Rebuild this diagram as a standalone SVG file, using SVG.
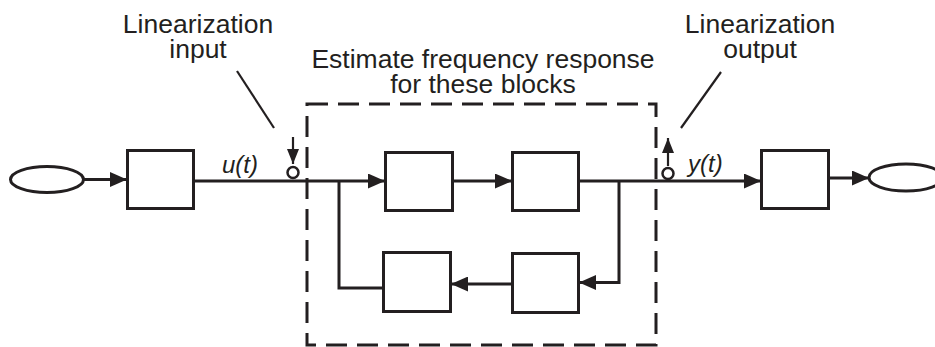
<svg xmlns="http://www.w3.org/2000/svg" width="935" height="347" viewBox="0 0 935 347">
<style>
.blk{fill:#fff;stroke:#231f20;stroke-width:3}
.ln{fill:none;stroke:#231f20;stroke-width:3}
.thin{fill:none;stroke:#231f20;stroke-width:2.2}
.lbl{font-family:"Liberation Sans",Arial,sans-serif;font-size:26.5px;fill:#231f20;text-anchor:middle}
.sig{font-family:"Liberation Sans",Arial,sans-serif;font-size:24px;font-style:italic;fill:#231f20}
</style>
<defs>
<marker id="ah" viewBox="0 0 17 15" refX="17" refY="7.5" markerWidth="17" markerHeight="15" markerUnits="userSpaceOnUse" orient="auto">
<polygon points="0,0 17,7.5 0,15" fill="#231f20"/>
</marker>
<marker id="sh" viewBox="0 0 15 12" refX="15" refY="6" markerWidth="15" markerHeight="12" markerUnits="userSpaceOnUse" orient="auto">
<polygon points="0,0 15,6 0,12" fill="#231f20"/>
</marker>
</defs>
<g id="region">
<rect x="307" y="104" width="349" height="241" fill="none" stroke="#231f20" stroke-width="3" stroke-dasharray="21 10"/>
<text class="lbl" x="483" y="68">Estimate frequency response</text>
<text class="lbl" x="483" y="93">for these blocks</text>
</g>
<g id="source"><ellipse cx="47" cy="179.5" rx="36.5" ry="13" fill="#fff" stroke="#231f20" stroke-width="3"/></g>
<g id="sink"><ellipse cx="906" cy="177.5" rx="37" ry="13.5" fill="#fff" stroke="#231f20" stroke-width="3"/></g>
<g id="box1"><rect class="blk" x="127.5" y="150.5" width="66" height="58"/></g>
<g id="box2"><rect class="blk" x="385.5" y="152.5" width="67" height="58"/></g>
<g id="box3"><rect class="blk" x="512.5" y="152.5" width="66" height="58"/></g>
<g id="box4"><rect class="blk" x="383.5" y="252.5" width="67" height="59"/></g>
<g id="box5"><rect class="blk" x="512.5" y="253.5" width="66" height="59"/></g>
<g id="box6"><rect class="blk" x="761.5" y="150.5" width="67" height="58"/></g>
<g id="connectors">
<path class="ln" d="M84,179.5 H127" marker-end="url(#ah)"/>
<path class="ln" d="M193,181 H385" marker-end="url(#ah)"/>
<path class="ln" d="M452,181 H512" marker-end="url(#ah)"/>
<path class="ln" d="M579,181 H761" marker-end="url(#ah)"/>
<path class="ln" d="M339,181 V288 H384"/>
<path class="ln" d="M512,284 H451" marker-end="url(#ah)"/>
<path class="ln" d="M619,181 V282.5 H579" marker-end="url(#ah)"/>
<path class="ln" d="M829,178 H869" marker-end="url(#ah)"/>
</g>
<g id="lin-input">
<circle cx="293" cy="172.5" r="5.5" fill="#fff" stroke="#231f20" stroke-width="2.5"/>
<path class="thin" d="M293,137 V164" marker-end="url(#sh)"/>
<path class="thin" d="M237,71 L274,128"/>
<text class="lbl" x="198" y="33">Linearization</text>
<text class="lbl" x="198" y="58">input</text>
<text class="sig" x="222" y="173">u(t)</text>
</g>
<g id="lin-output">
<circle cx="668" cy="173.5" r="5.5" fill="#fff" stroke="#231f20" stroke-width="2.5"/>
<path class="thin" d="M668,166 V138" marker-end="url(#sh)"/>
<path class="thin" d="M681,128 L721,72"/>
<text class="lbl" x="760" y="33">Linearization</text>
<text class="lbl" x="760" y="58">output</text>
<text class="sig" x="688" y="172">y(t)</text>
</g>
</svg>
